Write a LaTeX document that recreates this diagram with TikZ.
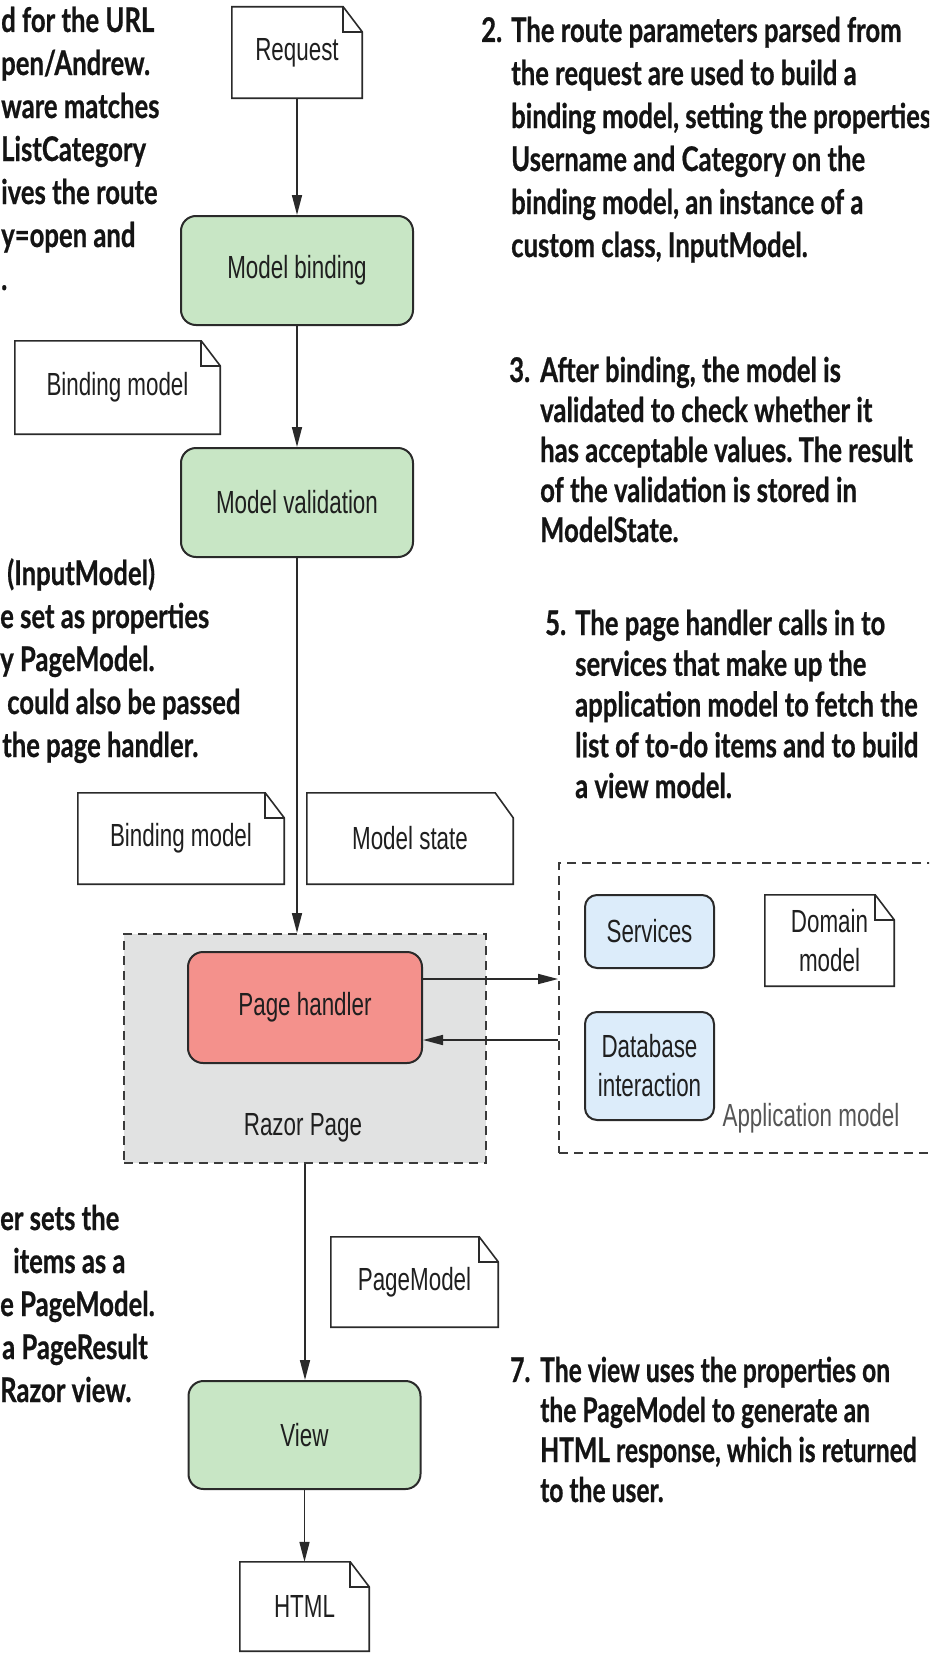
\documentclass[tikz,border=0pt]{standalone}
\usepackage{fontspec}
\setmainfont{Liberation Sans}
\newfontfamily\boxfont{Liberation Sans}[FakeStretch=0.70]
\newfontfamily\annfont{Lato}[FakeStretch=0.755, BoldFeatures={FakeBold=0.6}]
\newfontfamily\annfontn{Lato}[FakeStretch=0.725, BoldFeatures={FakeBold=0.6}]
\usetikzlibrary{arrows.meta}
\definecolor{greenfill}{HTML}{C8E6C5}
\definecolor{redfill}{HTML}{F4918C}
\definecolor{bluefill}{HTML}{DCECFA}
\definecolor{grayfill}{HTML}{E1E2E2}
\definecolor{edge}{HTML}{2A2A2A}
\definecolor{dashc}{HTML}{3A3A3A}
\definecolor{apptext}{HTML}{555555}
\newcommand\docedge[1]{%
  \draw[docline] (#1.south west) -- (#1.north west) -- ([xshift=-19pt]#1.north east) -- ([yshift=-25pt]#1.north east) -- (#1.south east) -- cycle;
  \draw[docline] ([xshift=-19pt]#1.north east) -- ([xshift=-19pt,yshift=-25pt]#1.north east) -- ([yshift=-25pt]#1.north east);}
\begin{document}
\frenchspacing
\begin{tikzpicture}[x=1pt,y=-1pt,
  lbl/.style={font=\boxfont\fontsize{32}{39}\selectfont, text=black!88},
  gbox/.style={draw=edge, line width=2pt, rounded corners=15pt, fill=greenfill, inner sep=0pt, minimum width=232pt, minimum height=109pt, lbl},
  rbox/.style={draw=edge, line width=2pt, rounded corners=15pt, fill=redfill, inner sep=0pt, minimum width=234pt, minimum height=111pt, lbl},
  bbox/.style={draw=edge, line width=2pt, rounded corners=12pt, fill=bluefill, inner sep=0pt, minimum width=129pt, lbl, align=center},
  docnode/.style={inner sep=0pt, lbl, align=center},
  docline/.style={draw=edge, line width=1.6pt, line join=miter},
  razorbox/.style={draw=dashc, dash pattern=on 9pt off 6pt, line width=2pt, fill=grayfill, minimum width=362pt, minimum height=229pt, inner sep=0pt},
  appbox/.style={draw=dashc, dash pattern=on 9pt off 6pt, line width=1.8pt, minimum width=381pt, minimum height=290pt, inner sep=0pt},
  arr/.style={draw=edge, line width=1.6pt, -{Triangle[length=20pt,width=10pt]}},
  ann/.style={font=\annfont\bfseries\fontsize{34}{40}\selectfont, text=black!92, anchor=base west, inner sep=0pt},
  annn/.style={ann, font=\annfontn\bfseries\fontsize{34}{40}\selectfont}
]
\path[use as bounding box] (0,0) rectangle (929,1654);
\clip (0,0) rectangle (929,1654);

% --- main flow ---
\node[docnode, minimum width=130pt, minimum height=91pt] (req) at (297,52.5) {Request};
\docedge{req}
\node[gbox] (mb) at (297,270.5) {Model binding};
\node[docnode, minimum width=205pt, minimum height=93pt] (bm1) at (117.5,387.5) {Binding model};
\docedge{bm1}
\node[gbox] (mv) at (297,502.5) {Model validation};
\node[docnode, minimum width=206pt, minimum height=91pt] (bm2) at (181,838.5) {Binding model};
\docedge{bm2}
\node[docnode, minimum width=206pt, minimum height=91pt] (ms) at (410,838.5) {Model state};
\draw[docline] (ms.south west) -- (ms.north west) -- ([xshift=-18pt]ms.north east) -- ([yshift=-25pt]ms.north east) -- (ms.south east) -- cycle;

\node[razorbox] (razor) at (305,1048.5) {};
\node[rbox] (ph) at (305,1007.5) {Page handler};
\node[lbl] (rp) at (303,1128) {Razor Page};

\node[appbox] (app) at (749.5,1008) {};
\node[bbox, minimum height=73pt] (svc) at (649.5,931.5) {Services};
\node[docnode, minimum width=129pt, minimum height=91pt] (dm) at (829.5,940.5) {Domain\\model};
\docedge{dm}
\node[bbox, minimum height=108pt] (db) at (649.5,1066) {Database\\interaction};
\node[lbl, text=apptext] (al) at (811,1118) {Application model};

\node[docnode, minimum width=167pt, minimum height=90pt] (pm) at (414.5,1282) {PageModel};
\docedge{pm}
\node[gbox, minimum height=108pt] (view) at (304.5,1435) {View};
\node[docnode, minimum width=129pt, minimum height=89pt] (html) at (304.5,1606.5) {HTML};
\docedge{html}

% --- connectors ---
\draw[arr] (req.south) -- (mb.north);
\draw[arr] (mb.south) -- (mv.north);
\draw[arr] (mv.south) -- (mv.south |- razor.north);
\draw[arr] (razor.south) -- (razor.south |- view.north);
\draw[arr] (view.south) -- (html.north);
\draw[arr] ([yshift=28.5pt]ph.east) -- ([yshift=28.5pt]ph.east -| app.west);
\draw[arr] ([yshift=-32.5pt]ph.east -| app.west) -- ([yshift=-32.5pt]ph.east);

% --- annotations ---
\foreach \t [count=\i from 0] in {d for the URL, pen/Andrew., ware matches, ListCategory, ives the route, y=open and}
  \node[ann] (a1-\i) at (1, 32+43*\i) {\t};
\node[ann] (a1-6) at (1,290) {.};

\node[ann] (n2) at (481,42) {2.};
\foreach \t [count=\i from 0] in {The route parameters parsed from, the request are used to build a, {binding model, setting the properties}, Username and Category on the, {binding model, an instance of a}, {custom class, InputModel.}}
  \node[ann] (a2-\i) at (511, 42+43*\i) {\t};

\node[ann] (n3) at (509,382) {3.};
\foreach \t [count=\i from 0] in {{After binding, the model is}, validated to check whether it, has acceptable values. The result, of the validation is stored in, ModelState.}
  \node[ann] (a3-\i) at (540, 382+40*\i) {\t};

\foreach \xx/\t [count=\i from 0] in {7/(InputModel), 0/e set as properties, 0/y PageModel., 7/could also be passed, 2/the page handler.}
  \node[ann] (a4-\i) at (\xx, 585+43*\i) {\t};

\node[ann] (n5) at (545,635) {5.};
\foreach \t [count=\i from 0] in {The page handler calls in to, services that make up the, application model to fetch the, list of to-do items and to build, a view model.}
  \node[ann] (a5-\i) at (575, 635+40.75*\i) {\t};

\foreach \xx/\t [count=\i from 0] in {0/er sets the, 13/items as a, 0/e PageModel., 2/a PageResult, 0/Razor view.}
  \node[ann] (a6-\i) at (\xx, 1230+43*\i) {\t};

\node[annn] (n7) at (510,1382) {7.};
\foreach \t [count=\i from 0] in {The view uses the properties on, the PageModel to generate an, {HTML response, which is returned}, to the user.}
  \node[annn] (a7-\i) at (540, 1382+40*\i) {\t};
\end{tikzpicture}
\end{document}
